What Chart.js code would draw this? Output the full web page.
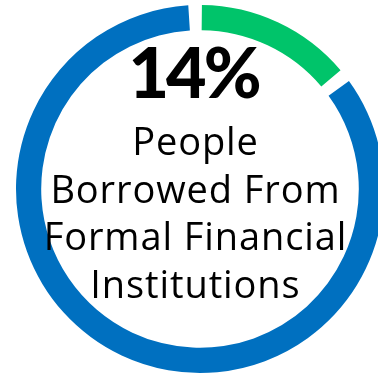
<!DOCTYPE html>
<html>
<head>
<meta charset="utf-8">
<script src="https://cdn.jsdelivr.net/npm/chart.js@4/dist/chart.umd.min.js"></script>
<style>
  html, body { margin: 0; padding: 0; background: #fff; overflow: hidden; }
  .wrap { position: absolute; left: 11px; top: 0; width: 378px; height: 378px; }
</style>
</head>
<body>
<div class="wrap"><canvas id="myChart"></canvas></div>
<script>
/* data */
const labels = ['Formal financial institutions', 'Other'];
const values = [14, 86];
const colors = ['#00C46A', '#0070C0'];
const bigLabel = '14%';
const captionLines = ['People', 'Borrowed From', 'Formal Financial', 'Institutions'];

/* draw text centered on x, with letter spacing */
function spacedText(ctx, text, cx, y, spacing) {
  const chars = text.split('');
  let total = 0;
  chars.forEach(function (c) { total += ctx.measureText(c).width; });
  total += spacing * (chars.length - 1);
  let x = cx - total / 2;
  chars.forEach(function (c) {
    ctx.fillText(c, x, y);
    x += ctx.measureText(c).width + spacing;
  });
}

/* center text plugin */
const centerText = {
  id: 'centerText',
  afterDraw: function (chart) {
    const arc = chart.getDatasetMeta(0).data[0];
    const ctx = chart.ctx;
    const cx = arc.x - 5;
    ctx.save();
    ctx.fillStyle = '#000';
    ctx.textAlign = 'left';
    ctx.textBaseline = 'alphabetic';
    ctx.font = '900 70px Lato';
    spacedText(ctx, bigLabel, cx, 98, -3);
    ctx.font = '38px "Open Sans"';
    captionLines.forEach(function (line, i) {
      spacedText(ctx, line, cx, 155 + i * 47.5, 0.9);
    });
    ctx.restore();
  }
};

const ctx = document.getElementById('myChart').getContext('2d');
const chart = new Chart(ctx, {
  type: 'doughnut',
  data: {
    labels: labels,
    datasets: [{
      data: values,
      backgroundColor: colors,
      borderWidth: 0,
      spacing: 8
    }]
  },
  options: {
    responsive: true,
    maintainAspectRatio: false,
    animation: false,
    radius: 180,
    cutout: '86%',
    plugins: {
      legend: { display: false },
      tooltip: { enabled: false }
    }
  },
  plugins: [centerText]
});
</script>
</body>
</html>
